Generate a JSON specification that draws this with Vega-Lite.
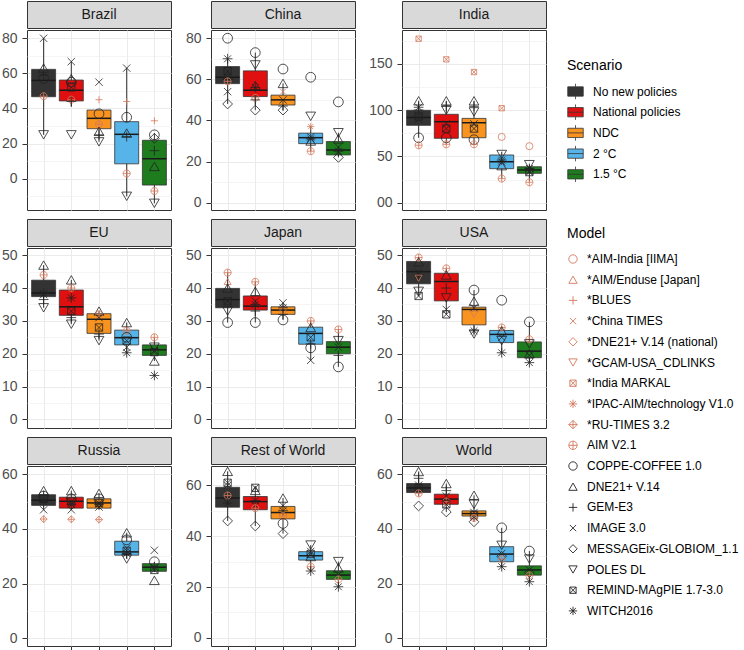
{
"$schema": "https://vega.github.io/schema/vega-lite/v6.json",
"padding": {"left": 0, "top": 0, "right": 0, "bottom": 0},
"config": {
 "font": "Liberation Sans",
 "view": {"stroke": "#333333", "strokeWidth": 1},
 "axis": {"labelFontSize": 14, "labelColor": "#4d4d4d", "tickColor": "#333333", "domain": false, "gridColor": "#ebebeb", "labelFont": "Liberation Sans", "tickSize": 5, "labelPadding": 5, "labelOverlap": false},
 "legend": {"titleFontSize": 14, "titleFontWeight": "normal", "labelFontSize": 12, "titleColor": "#000000", "labelColor": "#000000", "titleFont": "Liberation Sans", "labelFont": "Liberation Sans", "labelLimit": 220, "padding": 0}
},
"datasets": {
"models": [
{"mcode":"AIN","model":"*AIM-India [IIMA]"},{"mcode":"AJ","model":"*AIM/Enduse [Japan]"},{"mcode":"BL","model":"*BLUES"},{"mcode":"CT","model":"*China TIMES"},{"mcode":"DJ","model":"*DNE21+ V.14 (national)"},{"mcode":"GU","model":"*GCAM-USA_CDLINKS"},{"mcode":"IMK","model":"*India MARKAL"},{"mcode":"IP","model":"*IPAC-AIM/technology V1.0"},{"mcode":"RT","model":"*RU-TIMES 3.2"},{"mcode":"AI","model":"AIM V2.1"},{"mcode":"CO","model":"COPPE-COFFEE 1.0"},{"mcode":"DN","model":"DNE21+ V.14"},{"mcode":"GE","model":"GEM-E3"},{"mcode":"IM","model":"IMAGE 3.0"},{"mcode":"ME","model":"MESSAGEix-GLOBIOM_1.1"},{"mcode":"PO","model":"POLES DL"},{"mcode":"RE","model":"REMIND-MAgPIE 1.7-3.0"},{"mcode":"WI","model":"WITCH2016"}
],
"box": [
{"region":"Brazil","scen":"NNP","scenario":"No new policies","lo":25,"q1":46.7,"med":56,"q3":62.3,"hi":80},
{"region":"Brazil","scen":"NP","scenario":"National policies","lo":41,"q1":44.3,"med":50.4,"q3":56.2,"hi":66.7},
{"region":"Brazil","scen":"NDC","scenario":"NDC","lo":21,"q1":28.5,"med":34.4,"q3":39.1,"hi":39.1},
{"region":"Brazil","scen":"2C","scenario":"2 °C","lo":-10,"q1":8.5,"med":25.3,"q3":32.5,"hi":63},
{"region":"Brazil","scen":"15C","scenario":"1.5 °C","lo":-14,"q1":-3.6,"med":11.4,"q3":21.9,"hi":26},
{"region":"China","scen":"NNP","scenario":"No new policies","lo":48,"q1":57.9,"med":61,"q3":66.2,"hi":70},
{"region":"China","scen":"NP","scenario":"National policies","lo":45,"q1":51.6,"med":54.7,"q3":64.1,"hi":73},
{"region":"China","scen":"NDC","scenario":"NDC","lo":45,"q1":47.5,"med":50,"q3":52.3,"hi":58},
{"region":"China","scen":"2C","scenario":"2 °C","lo":25,"q1":28.7,"med":31.6,"q3":33.8,"hi":37},
{"region":"China","scen":"15C","scenario":"1.5 °C","lo":22,"q1":23.2,"med":25.6,"q3":29.7,"hi":34},
{"region":"India","scen":"NNP","scenario":"No new policies","lo":70,"q1":83.5,"med":92,"q3":99.7,"hi":110},
{"region":"India","scen":"NP","scenario":"National policies","lo":63,"q1":69.5,"med":87.4,"q3":95.4,"hi":110},
{"region":"India","scen":"NDC","scenario":"NDC","lo":63,"q1":70.1,"med":86.3,"q3":91,"hi":110},
{"region":"India","scen":"2C","scenario":"2 °C","lo":26,"q1":36.7,"med":44.2,"q3":51.5,"hi":55},
{"region":"India","scen":"15C","scenario":"1.5 °C","lo":23,"q1":31.7,"med":35.3,"q3":38.8,"hi":41},
{"region":"EU","scen":"NNP","scenario":"No new policies","lo":34,"q1":37.4,"med":38.5,"q3":42.4,"hi":47},
{"region":"EU","scen":"NP","scenario":"National policies","lo":29,"q1":31.7,"med":34.3,"q3":39.4,"hi":42.5},
{"region":"EU","scen":"NDC","scenario":"NDC","lo":24,"q1":26.2,"med":30.5,"q3":32.2,"hi":33},
{"region":"EU","scen":"2C","scenario":"2 °C","lo":20.3,"q1":22.7,"med":24.9,"q3":27.2,"hi":29.5},
{"region":"EU","scen":"15C","scenario":"1.5 °C","lo":17.8,"q1":19.5,"med":21.2,"q3":22.7,"hi":25},
{"region":"Japan","scen":"NNP","scenario":"No new policies","lo":29.5,"q1":34,"med":36.5,"q3":39.9,"hi":44.7},
{"region":"Japan","scen":"NP","scenario":"National policies","lo":29.5,"q1":33.3,"med":34.5,"q3":37.6,"hi":41.9},
{"region":"Japan","scen":"NDC","scenario":"NDC","lo":30.3,"q1":32,"med":33.3,"q3":34.3,"hi":35.5},
{"region":"Japan","scen":"2C","scenario":"2 °C","lo":18,"q1":22.9,"med":26.2,"q3":28.1,"hi":30},
{"region":"Japan","scen":"15C","scenario":"1.5 °C","lo":16,"q1":20,"med":22,"q3":23.7,"hi":27.4},
{"region":"USA","scen":"NNP","scenario":"No new policies","lo":37.6,"q1":41.3,"med":45,"q3":48.1,"hi":49.3},
{"region":"USA","scen":"NP","scenario":"National policies","lo":32,"q1":36.1,"med":42,"q3":44.5,"hi":46},
{"region":"USA","scen":"NDC","scenario":"NDC","lo":26,"q1":28.8,"med":33.5,"q3":34.2,"hi":39.4},
{"region":"USA","scen":"2C","scenario":"2 °C","lo":20.3,"q1":23.4,"med":25.9,"q3":27.1,"hi":28},
{"region":"USA","scen":"15C","scenario":"1.5 °C","lo":17.3,"q1":18.8,"med":20.8,"q3":23.6,"hi":29.7},
{"region":"Russia","scen":"NNP","scenario":"No new policies","lo":47,"q1":48.6,"med":50.5,"q3":52.5,"hi":54},
{"region":"Russia","scen":"NP","scenario":"National policies","lo":47,"q1":47.6,"med":50.1,"q3":51.6,"hi":54},
{"region":"Russia","scen":"NDC","scenario":"NDC","lo":47,"q1":47.6,"med":49.5,"q3":51,"hi":53},
{"region":"Russia","scen":"2C","scenario":"2 °C","lo":29,"q1":30.4,"med":31.6,"q3":35.5,"hi":38.6},
{"region":"Russia","scen":"15C","scenario":"1.5 °C","lo":24.5,"q1":24.5,"med":26,"q3":27.3,"hi":28},
{"region":"Rest of World","scen":"NNP","scenario":"No new policies","lo":46,"q1":51.4,"med":55,"q3":59.2,"hi":65.5},
{"region":"Rest of World","scen":"NP","scenario":"National policies","lo":44,"q1":50.4,"med":53.6,"q3":55.6,"hi":59},
{"region":"Rest of World","scen":"NDC","scenario":"NDC","lo":41,"q1":46.8,"med":49.3,"q3":51.7,"hi":55},
{"region":"Rest of World","scen":"2C","scenario":"2 °C","lo":26.3,"q1":30.6,"med":32.3,"q3":33.9,"hi":36.5},
{"region":"Rest of World","scen":"15C","scenario":"1.5 °C","lo":20.1,"q1":23,"med":24.7,"q3":26.4,"hi":30},
{"region":"World","scen":"NNP","scenario":"No new policies","lo":52,"q1":53.3,"med":55,"q3":56.6,"hi":61},
{"region":"World","scen":"NP","scenario":"National policies","lo":46.2,"q1":49,"med":50.9,"q3":52.7,"hi":56.6},
{"region":"World","scen":"NDC","scenario":"NDC","lo":42.6,"q1":44.7,"med":45.6,"q3":46.6,"hi":52.3},
{"region":"World","scen":"2C","scenario":"2 °C","lo":26.2,"q1":28,"med":30.8,"q3":33.5,"hi":40.4},
{"region":"World","scen":"15C","scenario":"1.5 °C","lo":20.7,"q1":23.1,"med":25,"q3":26.5,"hi":31.9}
],
"pts": [
{"region":"Brazil","scen":"NNP","mcode":"IM","value":80},{"region":"Brazil","scen":"NNP","mcode":"DN","value":63},{"region":"Brazil","scen":"NNP","mcode":"GE","value":59},{"region":"Brazil","scen":"NNP","mcode":"CO","value":57},{"region":"Brazil","scen":"NNP","mcode":"AI","value":47},{"region":"Brazil","scen":"NNP","mcode":"PO","value":25},
{"region":"Brazil","scen":"NP","mcode":"IM","value":66.7},{"region":"Brazil","scen":"NP","mcode":"DN","value":57},{"region":"Brazil","scen":"NP","mcode":"CO","value":55},{"region":"Brazil","scen":"NP","mcode":"RE","value":52},{"region":"Brazil","scen":"NP","mcode":"AI","value":45},{"region":"Brazil","scen":"NP","mcode":"GE","value":44},{"region":"Brazil","scen":"NP","mcode":"PO","value":25},
{"region":"Brazil","scen":"NDC","mcode":"IM","value":55},{"region":"Brazil","scen":"NDC","mcode":"BL","value":45},{"region":"Brazil","scen":"NDC","mcode":"CO","value":37},{"region":"Brazil","scen":"NDC","mcode":"AI","value":31},{"region":"Brazil","scen":"NDC","mcode":"DN","value":27},{"region":"Brazil","scen":"NDC","mcode":"GE","value":25},{"region":"Brazil","scen":"NDC","mcode":"PO","value":21},
{"region":"Brazil","scen":"2C","mcode":"IM","value":63},{"region":"Brazil","scen":"2C","mcode":"BL","value":44},{"region":"Brazil","scen":"2C","mcode":"CO","value":35},{"region":"Brazil","scen":"2C","mcode":"DN","value":26},{"region":"Brazil","scen":"2C","mcode":"GE","value":24},{"region":"Brazil","scen":"2C","mcode":"AI","value":3},{"region":"Brazil","scen":"2C","mcode":"PO","value":-10},
{"region":"Brazil","scen":"15C","mcode":"BL","value":33},{"region":"Brazil","scen":"15C","mcode":"CO","value":25},{"region":"Brazil","scen":"15C","mcode":"ME","value":23},{"region":"Brazil","scen":"15C","mcode":"GE","value":16},{"region":"Brazil","scen":"15C","mcode":"DN","value":7},{"region":"Brazil","scen":"15C","mcode":"AI","value":-7},{"region":"Brazil","scen":"15C","mcode":"PO","value":-14},
{"region":"China","scen":"NNP","mcode":"CO","value":80},{"region":"China","scen":"NNP","mcode":"WI","value":70},{"region":"China","scen":"NNP","mcode":"RE","value":64},{"region":"China","scen":"NNP","mcode":"DN","value":62},{"region":"China","scen":"NNP","mcode":"AI","value":59},{"region":"China","scen":"NNP","mcode":"IM","value":54},{"region":"China","scen":"NNP","mcode":"ME","value":48},
{"region":"China","scen":"NP","mcode":"CO","value":73},{"region":"China","scen":"NP","mcode":"PO","value":67},{"region":"China","scen":"NP","mcode":"DN","value":57},{"region":"China","scen":"NP","mcode":"WI","value":56},{"region":"China","scen":"NP","mcode":"AI","value":51},{"region":"China","scen":"NP","mcode":"GE","value":50},{"region":"China","scen":"NP","mcode":"ME","value":45},
{"region":"China","scen":"NDC","mcode":"CO","value":65},{"region":"China","scen":"NDC","mcode":"DN","value":58},{"region":"China","scen":"NDC","mcode":"CT","value":54},{"region":"China","scen":"NDC","mcode":"IM","value":50},{"region":"China","scen":"NDC","mcode":"GE","value":47},{"region":"China","scen":"NDC","mcode":"ME","value":45},
{"region":"China","scen":"2C","mcode":"CO","value":61},{"region":"China","scen":"2C","mcode":"PO","value":42},{"region":"China","scen":"2C","mcode":"IP","value":37},{"region":"China","scen":"2C","mcode":"IM","value":32},{"region":"China","scen":"2C","mcode":"WI","value":31},{"region":"China","scen":"2C","mcode":"DN","value":30},{"region":"China","scen":"2C","mcode":"AI","value":25},
{"region":"China","scen":"15C","mcode":"CO","value":49},{"region":"China","scen":"15C","mcode":"PO","value":34},{"region":"China","scen":"15C","mcode":"DN","value":31},{"region":"China","scen":"15C","mcode":"IM","value":27},{"region":"China","scen":"15C","mcode":"WI","value":25},{"region":"China","scen":"15C","mcode":"ME","value":22},
{"region":"India","scen":"NNP","mcode":"IMK","value":177},{"region":"India","scen":"NNP","mcode":"DN","value":110},{"region":"India","scen":"NNP","mcode":"WI","value":103},{"region":"India","scen":"NNP","mcode":"GE","value":100},{"region":"India","scen":"NNP","mcode":"RE","value":93},{"region":"India","scen":"NNP","mcode":"IM","value":90},{"region":"India","scen":"NNP","mcode":"CO","value":70},{"region":"India","scen":"NNP","mcode":"AI","value":62},
{"region":"India","scen":"NP","mcode":"IMK","value":154.7},{"region":"India","scen":"NP","mcode":"DN","value":110},{"region":"India","scen":"NP","mcode":"GE","value":104},{"region":"India","scen":"NP","mcode":"PO","value":100},{"region":"India","scen":"NP","mcode":"IM","value":85},{"region":"India","scen":"NP","mcode":"RE","value":80},{"region":"India","scen":"NP","mcode":"CO","value":70},{"region":"India","scen":"NP","mcode":"AI","value":63},
{"region":"India","scen":"NDC","mcode":"IMK","value":141},{"region":"India","scen":"NDC","mcode":"DN","value":110},{"region":"India","scen":"NDC","mcode":"GE","value":104},{"region":"India","scen":"NDC","mcode":"PO","value":98},{"region":"India","scen":"NDC","mcode":"IM","value":85},{"region":"India","scen":"NDC","mcode":"RE","value":80},{"region":"India","scen":"NDC","mcode":"CO","value":68},{"region":"India","scen":"NDC","mcode":"AI","value":63},
{"region":"India","scen":"2C","mcode":"IMK","value":102},{"region":"India","scen":"2C","mcode":"AIN","value":71},{"region":"India","scen":"2C","mcode":"PO","value":52},{"region":"India","scen":"2C","mcode":"WI","value":46},{"region":"India","scen":"2C","mcode":"IM","value":44},{"region":"India","scen":"2C","mcode":"DN","value":40},{"region":"India","scen":"2C","mcode":"AI","value":26},
{"region":"India","scen":"15C","mcode":"AIN","value":61},{"region":"India","scen":"15C","mcode":"PO","value":41},{"region":"India","scen":"15C","mcode":"WI","value":37},{"region":"India","scen":"15C","mcode":"IM","value":34},{"region":"India","scen":"15C","mcode":"RE","value":33},{"region":"India","scen":"15C","mcode":"AI","value":22},
{"region":"EU","scen":"NNP","mcode":"DN","value":47},{"region":"EU","scen":"NNP","mcode":"AI","value":44},{"region":"EU","scen":"NNP","mcode":"WI","value":38.5},{"region":"EU","scen":"NNP","mcode":"IM","value":38},{"region":"EU","scen":"NNP","mcode":"GE","value":36.5},{"region":"EU","scen":"NNP","mcode":"PO","value":34},
{"region":"EU","scen":"NP","mcode":"DN","value":42.5},{"region":"EU","scen":"NP","mcode":"AI","value":40},{"region":"EU","scen":"NP","mcode":"WI","value":37},{"region":"EU","scen":"NP","mcode":"RE","value":33},{"region":"EU","scen":"NP","mcode":"GE","value":31},{"region":"EU","scen":"NP","mcode":"PO","value":29},
{"region":"EU","scen":"NDC","mcode":"DN","value":33},{"region":"EU","scen":"NDC","mcode":"AI","value":32},{"region":"EU","scen":"NDC","mcode":"IM","value":31},{"region":"EU","scen":"NDC","mcode":"RE","value":28},{"region":"EU","scen":"NDC","mcode":"GE","value":26},{"region":"EU","scen":"NDC","mcode":"PO","value":24},
{"region":"EU","scen":"2C","mcode":"DN","value":29.5},{"region":"EU","scen":"2C","mcode":"AI","value":27},{"region":"EU","scen":"2C","mcode":"CO","value":25},{"region":"EU","scen":"2C","mcode":"RE","value":24},{"region":"EU","scen":"2C","mcode":"IM","value":22},{"region":"EU","scen":"2C","mcode":"WI","value":20.3},
{"region":"EU","scen":"15C","mcode":"AI","value":25},{"region":"EU","scen":"15C","mcode":"PO","value":22},{"region":"EU","scen":"15C","mcode":"IM","value":21},{"region":"EU","scen":"15C","mcode":"RE","value":20.5},{"region":"EU","scen":"15C","mcode":"DN","value":17.8},{"region":"EU","scen":"15C","mcode":"WI","value":13.4},
{"region":"Japan","scen":"NNP","mcode":"AI","value":44.7},{"region":"Japan","scen":"NNP","mcode":"AJ","value":42},{"region":"Japan","scen":"NNP","mcode":"DN","value":40},{"region":"Japan","scen":"NNP","mcode":"RE","value":36},{"region":"Japan","scen":"NNP","mcode":"IM","value":36},{"region":"Japan","scen":"NNP","mcode":"PO","value":33},{"region":"Japan","scen":"NNP","mcode":"CO","value":29.5},
{"region":"Japan","scen":"NP","mcode":"AI","value":41.9},{"region":"Japan","scen":"NP","mcode":"DN","value":39},{"region":"Japan","scen":"NP","mcode":"IM","value":36},{"region":"Japan","scen":"NP","mcode":"WI","value":35},{"region":"Japan","scen":"NP","mcode":"GE","value":33},{"region":"Japan","scen":"NP","mcode":"CO","value":29.5},
{"region":"Japan","scen":"NDC","mcode":"IM","value":35.5},{"region":"Japan","scen":"NDC","mcode":"WI","value":34},{"region":"Japan","scen":"NDC","mcode":"DJ","value":33},{"region":"Japan","scen":"NDC","mcode":"GE","value":32},{"region":"Japan","scen":"NDC","mcode":"CO","value":30.3},
{"region":"Japan","scen":"2C","mcode":"AI","value":30},{"region":"Japan","scen":"2C","mcode":"DN","value":28},{"region":"Japan","scen":"2C","mcode":"RE","value":25},{"region":"Japan","scen":"2C","mcode":"GE","value":23},{"region":"Japan","scen":"2C","mcode":"CO","value":21.8},{"region":"Japan","scen":"2C","mcode":"IM","value":18},
{"region":"Japan","scen":"15C","mcode":"AI","value":27.4},{"region":"Japan","scen":"15C","mcode":"PO","value":24},{"region":"Japan","scen":"15C","mcode":"IM","value":22},{"region":"Japan","scen":"15C","mcode":"GE","value":19.5},{"region":"Japan","scen":"15C","mcode":"CO","value":16},
{"region":"USA","scen":"NNP","mcode":"AI","value":49.3},{"region":"USA","scen":"NNP","mcode":"DN","value":48},{"region":"USA","scen":"NNP","mcode":"IM","value":44.7},{"region":"USA","scen":"NNP","mcode":"WI","value":44},{"region":"USA","scen":"NNP","mcode":"GU","value":43},{"region":"USA","scen":"NNP","mcode":"PO","value":39},{"region":"USA","scen":"NNP","mcode":"RE","value":37.6},
{"region":"USA","scen":"NP","mcode":"AI","value":46},{"region":"USA","scen":"NP","mcode":"DN","value":44},{"region":"USA","scen":"NP","mcode":"GE","value":40},{"region":"USA","scen":"NP","mcode":"PO","value":37},{"region":"USA","scen":"NP","mcode":"IM","value":33.5},{"region":"USA","scen":"NP","mcode":"RE","value":32},
{"region":"USA","scen":"NDC","mcode":"CO","value":39.4},{"region":"USA","scen":"NDC","mcode":"DN","value":36},{"region":"USA","scen":"NDC","mcode":"IM","value":34},{"region":"USA","scen":"NDC","mcode":"GU","value":32},{"region":"USA","scen":"NDC","mcode":"WI","value":27},{"region":"USA","scen":"NDC","mcode":"PO","value":26},
{"region":"USA","scen":"2C","mcode":"CO","value":36.3},{"region":"USA","scen":"2C","mcode":"AI","value":28},{"region":"USA","scen":"2C","mcode":"DN","value":27},{"region":"USA","scen":"2C","mcode":"IM","value":25},{"region":"USA","scen":"2C","mcode":"PO","value":24},{"region":"USA","scen":"2C","mcode":"WI","value":20.3},
{"region":"USA","scen":"15C","mcode":"CO","value":29.7},{"region":"USA","scen":"15C","mcode":"AI","value":24.4},{"region":"USA","scen":"15C","mcode":"PO","value":23},{"region":"USA","scen":"15C","mcode":"DN","value":20},{"region":"USA","scen":"15C","mcode":"IM","value":19.5},{"region":"USA","scen":"15C","mcode":"WI","value":17.3},
{"region":"Russia","scen":"NNP","mcode":"DN","value":54},{"region":"Russia","scen":"NNP","mcode":"CO","value":52},{"region":"Russia","scen":"NNP","mcode":"RE","value":51},{"region":"Russia","scen":"NNP","mcode":"WI","value":50},{"region":"Russia","scen":"NNP","mcode":"IM","value":47},{"region":"Russia","scen":"NNP","mcode":"RT","value":43.6},
{"region":"Russia","scen":"NP","mcode":"DN","value":54},{"region":"Russia","scen":"NP","mcode":"CO","value":51},{"region":"Russia","scen":"NP","mcode":"RE","value":50},{"region":"Russia","scen":"NP","mcode":"WI","value":49},{"region":"Russia","scen":"NP","mcode":"IM","value":47},{"region":"Russia","scen":"NP","mcode":"RT","value":43.5},
{"region":"Russia","scen":"NDC","mcode":"DN","value":53},{"region":"Russia","scen":"NDC","mcode":"CO","value":51},{"region":"Russia","scen":"NDC","mcode":"RE","value":49.5},{"region":"Russia","scen":"NDC","mcode":"WI","value":49},{"region":"Russia","scen":"NDC","mcode":"IM","value":48},{"region":"Russia","scen":"NDC","mcode":"RT","value":43.4},
{"region":"Russia","scen":"2C","mcode":"DN","value":38.6},{"region":"Russia","scen":"2C","mcode":"CO","value":36},{"region":"Russia","scen":"2C","mcode":"IM","value":33},{"region":"Russia","scen":"2C","mcode":"RE","value":32},{"region":"Russia","scen":"2C","mcode":"WI","value":31},{"region":"Russia","scen":"2C","mcode":"PO","value":29},
{"region":"Russia","scen":"15C","mcode":"IM","value":32.2},{"region":"Russia","scen":"15C","mcode":"CO","value":28},{"region":"Russia","scen":"15C","mcode":"WI","value":26},{"region":"Russia","scen":"15C","mcode":"RE","value":25},{"region":"Russia","scen":"15C","mcode":"DN","value":21.2},
{"region":"Rest of World","scen":"NNP","mcode":"DN","value":65.5},{"region":"Rest of World","scen":"NNP","mcode":"RE","value":61},{"region":"Rest of World","scen":"NNP","mcode":"IM","value":60},{"region":"Rest of World","scen":"NNP","mcode":"AI","value":56},{"region":"Rest of World","scen":"NNP","mcode":"WI","value":53},{"region":"Rest of World","scen":"NNP","mcode":"ME","value":46},
{"region":"Rest of World","scen":"NP","mcode":"RE","value":59},{"region":"Rest of World","scen":"NP","mcode":"DN","value":58},{"region":"Rest of World","scen":"NP","mcode":"WI","value":54},{"region":"Rest of World","scen":"NP","mcode":"IM","value":52},{"region":"Rest of World","scen":"NP","mcode":"AI","value":51},{"region":"Rest of World","scen":"NP","mcode":"ME","value":44},
{"region":"Rest of World","scen":"NDC","mcode":"DN","value":55},{"region":"Rest of World","scen":"NDC","mcode":"IM","value":52},{"region":"Rest of World","scen":"NDC","mcode":"WI","value":50},{"region":"Rest of World","scen":"NDC","mcode":"AI","value":48},{"region":"Rest of World","scen":"NDC","mcode":"CO","value":45},{"region":"Rest of World","scen":"NDC","mcode":"ME","value":41},
{"region":"Rest of World","scen":"2C","mcode":"PO","value":36.5},{"region":"Rest of World","scen":"2C","mcode":"IM","value":34},{"region":"Rest of World","scen":"2C","mcode":"RE","value":33},{"region":"Rest of World","scen":"2C","mcode":"DN","value":32},{"region":"Rest of World","scen":"2C","mcode":"AI","value":28},{"region":"Rest of World","scen":"2C","mcode":"WI","value":26.3},
{"region":"Rest of World","scen":"15C","mcode":"PO","value":30},{"region":"Rest of World","scen":"15C","mcode":"DN","value":27.5},{"region":"Rest of World","scen":"15C","mcode":"IM","value":25},{"region":"Rest of World","scen":"15C","mcode":"AI","value":23},{"region":"Rest of World","scen":"15C","mcode":"WI","value":20.1},
{"region":"World","scen":"NNP","mcode":"DN","value":61},{"region":"World","scen":"NNP","mcode":"GE","value":58.5},{"region":"World","scen":"NNP","mcode":"IM","value":56},{"region":"World","scen":"NNP","mcode":"RE","value":55},{"region":"World","scen":"NNP","mcode":"AI","value":53},{"region":"World","scen":"NNP","mcode":"ME","value":48.4},
{"region":"World","scen":"NP","mcode":"DN","value":56.6},{"region":"World","scen":"NP","mcode":"GE","value":54},{"region":"World","scen":"NP","mcode":"IM","value":52},{"region":"World","scen":"NP","mcode":"AI","value":50},{"region":"World","scen":"NP","mcode":"RE","value":49},{"region":"World","scen":"NP","mcode":"ME","value":46.2},
{"region":"World","scen":"NDC","mcode":"DN","value":52.3},{"region":"World","scen":"NDC","mcode":"PO","value":49},{"region":"World","scen":"NDC","mcode":"IM","value":46},{"region":"World","scen":"NDC","mcode":"RE","value":45},{"region":"World","scen":"NDC","mcode":"AI","value":44},{"region":"World","scen":"NDC","mcode":"ME","value":42.6},
{"region":"World","scen":"2C","mcode":"CO","value":40.4},{"region":"World","scen":"2C","mcode":"PO","value":34},{"region":"World","scen":"2C","mcode":"IM","value":31},{"region":"World","scen":"2C","mcode":"ME","value":30},{"region":"World","scen":"2C","mcode":"AI","value":29},{"region":"World","scen":"2C","mcode":"WI","value":26.2},
{"region":"World","scen":"15C","mcode":"CO","value":31.9},{"region":"World","scen":"15C","mcode":"PO","value":29},{"region":"World","scen":"15C","mcode":"IM","value":25},{"region":"World","scen":"15C","mcode":"ME","value":24},{"region":"World","scen":"15C","mcode":"AI","value":23},{"region":"World","scen":"15C","mcode":"WI","value":20.7}
]
},
"columns": 3,
"spacing": {"row": 7, "column": 12},
"concat": [
{"spacing": 0, "vconcat": [
 {"width": 144, "height": 27, "view": {"fill": "#d9d9d9", "stroke": "#333333"}, "data": {"values": [{"region": "Brazil"}]}, "mark": {"type": "text", "fontSize": 14, "color": "#1a1a1a"}, "encoding": {"text": {"field": "region", "type": "nominal"}}},
 {"width": 144, "height": 180, "resolve": {"axis": {"y": "independent"}}, "layer": [
  {"data": {"name": "box"}, "transform": [{"filter": "datum.region == 'Brazil'"}], "mark": {"type": "rule", "color": "#333333", "strokeWidth": 1},
   "encoding": {"x": {"field": "scen", "type": "nominal", "title": null, "scale": {"type": "point", "padding": 0.6, "domain": ["NNP","NP","NDC","2C","15C"]}, "axis": {"title": null, "labels": false, "ticks": false, "domain": false, "grid": true}},
    "y": {"field": "lo", "type": "quantitative", "title": null, "scale": {"domain": [-17.8, 84.7], "nice": false, "zero": false}, "axis": {"title": null, "labelOverlap": false, "values": [0,20,40,60,80], "gridWidth": 1}},
    "y2": {"field": "hi"}}},
  {"data": {"name": "box"}, "transform": [{"filter": "datum.region == 'Brazil'"}], "mark": {"type": "bar", "size": 24, "stroke": "#333333", "strokeWidth": 0.8},
   "encoding": {"x": {"field": "scen", "type": "nominal", "title": null}, "y": {"field": "q1", "type": "quantitative", "title": null, "axis": {"title": null, "orient": "right", "values": [-10,10,30,50,70], "labels": false, "ticks": false, "domain": false, "grid": true, "gridWidth": 0.6, "gridColor": "#efefef"}}, "y2": {"field": "q3"},
    "fill": {"field": "scenario", "type": "nominal", "scale": {"domain": ["No new policies","National policies","NDC","2 °C","1.5 °C"], "range": ["#333333","#e01010","#f7931e","#56b4e9","#1e7b1e"]}, "legend": {"title": "Scenario", "orient": "none", "legendX": 540, "legendY": 58, "symbolType": "M-1,-0.6L1,-0.6L1,0.6L-1,0.6Z M-1,0L1,0 M0,-1L0,-0.6 M0,0.6L0,1", "symbolSize": 240, "symbolStrokeColor": "#333333", "symbolStrokeWidth": 0.8, "rowPadding": 1.7, "labelOffset": 9, "titlePadding": 10}}}},
  {"data": {"name": "box"}, "transform": [{"filter": "datum.region == 'Brazil'"}], "mark": {"type": "tick", "size": 24, "thickness": 1.5, "color": "#1a1a1a", "opacity": 1},
   "encoding": {"x": {"field": "scen", "type": "nominal", "title": null}, "y": {"field": "med", "type": "quantitative", "title": null, "axis": null}}},
  {"data": {"name": "pts"}, "transform": [{"filter": "datum.region == 'Brazil'"}, {"lookup": "mcode", "from": {"data": {"name": "models"}, "key": "mcode", "fields": ["model"]}}], "mark": {"type": "point", "filled": false, "opacity": 1, "strokeWidth": 0.8},
   "encoding": {"x": {"field": "scen", "type": "nominal", "title": null}, "y": {"field": "value", "type": "quantitative", "title": null, "axis": null},
    "shape": {"field": "model", "type": "nominal", "scale": {"domain": ["*AIM-India [IIMA]","*AIM/Enduse [Japan]","*BLUES","*China TIMES","*DNE21+ V.14 (national)","*GCAM-USA_CDLINKS","*India MARKAL","*IPAC-AIM/technology V1.0","*RU-TIMES 3.2","AIM V2.1","COPPE-COFFEE 1.0","DNE21+ V.14","GEM-E3","IMAGE 3.0","MESSAGEix-GLOBIOM_1.1","POLES DL","REMIND-MAgPIE 1.7-3.0","WITCH2016"], "range": ["circle","triangle-up","M-1,0L1,0M0,-1L0,1","M-0.75,-0.75L0.75,0.75M-0.75,0.75L0.75,-0.75","diamond","triangle-down","M-0.75,-0.75L0.75,-0.75L0.75,0.75L-0.75,0.75ZM-0.75,-0.75L0.75,0.75M-0.75,0.75L0.75,-0.75","M-1,0L1,0M0,-1L0,1M-0.7,-0.7L0.7,0.7M-0.7,0.7L0.7,-0.7","M0,-1L1,0L0,1L-1,0ZM-1,0L1,0M0,-1L0,1","M-1,0A1,1,0,1,1,1,0A1,1,0,1,1,-1,0ZM-1,0L1,0M0,-1L0,1","circle","triangle-up","M-1,0L1,0M0,-1L0,1","M-0.75,-0.75L0.75,0.75M-0.75,0.75L0.75,-0.75","diamond","triangle-down","M-0.75,-0.75L0.75,-0.75L0.75,0.75L-0.75,0.75ZM-0.75,-0.75L0.75,0.75M-0.75,0.75L0.75,-0.75","M-1,0L1,0M0,-1L0,1M-0.7,-0.7L0.7,0.7M-0.7,0.7L0.7,-0.7"]}, "legend": {"title": "Model", "orient": "none", "legendX": 540, "legendY": 226, "symbolSize": 70, "symbolStrokeWidth": 0.9, "rowPadding": 8.7, "labelOffset": 8, "titlePadding": 12, "encode": {"symbols": {"update": {"size": {"signal": "(indexof(datum.value, '*') == 0 || datum.value == 'AIM V2.1') ? 40 : 75"}}}}}},
    "color": {"field": "model", "type": "nominal", "scale": {"domain": ["*AIM-India [IIMA]","*AIM/Enduse [Japan]","*BLUES","*China TIMES","*DNE21+ V.14 (national)","*GCAM-USA_CDLINKS","*India MARKAL","*IPAC-AIM/technology V1.0","*RU-TIMES 3.2","AIM V2.1","COPPE-COFFEE 1.0","DNE21+ V.14","GEM-E3","IMAGE 3.0","MESSAGEix-GLOBIOM_1.1","POLES DL","REMIND-MAgPIE 1.7-3.0","WITCH2016"], "range": ["#d4785c","#d4785c","#d4785c","#d4785c","#d4785c","#d4785c","#d4785c","#d4785c","#d4785c","#d4785c","#222222","#222222","#222222","#222222","#222222","#222222","#222222","#222222"]}, "legend": {"title": "Model", "orient": "none", "legendX": 540, "legendY": 226, "symbolSize": 70, "symbolStrokeWidth": 0.9, "rowPadding": 8.7, "labelOffset": 8, "titlePadding": 12, "encode": {"symbols": {"update": {"size": {"signal": "(indexof(datum.value, '*') == 0 || datum.value == 'AIM V2.1') ? 40 : 75"}}}}}},
    "size": {"condition": {"test": "indexof(datum.model, '*') == 0 || datum.model == 'AIM V2.1'", "value": 50}, "value": 95}}}
 ]}
]},
{"spacing": 0, "vconcat": [
 {"width": 144, "height": 27, "view": {"fill": "#d9d9d9", "stroke": "#333333"}, "data": {"values": [{"region": "China"}]}, "mark": {"type": "text", "fontSize": 14, "color": "#1a1a1a"}, "encoding": {"text": {"field": "region", "type": "nominal"}}},
 {"width": 144, "height": 180, "resolve": {"axis": {"y": "independent"}}, "layer": [
  {"data": {"name": "box"}, "transform": [{"filter": "datum.region == 'China'"}], "mark": {"type": "rule", "color": "#333333", "strokeWidth": 1},
   "encoding": {"x": {"field": "scen", "type": "nominal", "title": null, "scale": {"type": "point", "padding": 0.6, "domain": ["NNP","NP","NDC","2C","15C"]}, "axis": {"title": null, "labels": false, "ticks": false, "domain": false, "grid": true}},
    "y": {"field": "lo", "type": "quantitative", "title": null, "scale": {"domain": [-3.6, 84], "nice": false, "zero": false}, "axis": {"title": null, "labelOverlap": false, "values": [0,20,40,60,80], "gridWidth": 1}},
    "y2": {"field": "hi"}}},
  {"data": {"name": "box"}, "transform": [{"filter": "datum.region == 'China'"}], "mark": {"type": "bar", "size": 24, "stroke": "#333333", "strokeWidth": 0.8},
   "encoding": {"x": {"field": "scen", "type": "nominal", "title": null}, "y": {"field": "q1", "type": "quantitative", "title": null, "axis": {"title": null, "orient": "right", "values": [10,30,50,70], "labels": false, "ticks": false, "domain": false, "grid": true, "gridWidth": 0.6, "gridColor": "#efefef"}}, "y2": {"field": "q3"}, "fill": {"field": "scenario", "type": "nominal"}}},
  {"data": {"name": "box"}, "transform": [{"filter": "datum.region == 'China'"}], "mark": {"type": "tick", "size": 24, "thickness": 1.5, "color": "#1a1a1a", "opacity": 1},
   "encoding": {"x": {"field": "scen", "type": "nominal", "title": null}, "y": {"field": "med", "type": "quantitative", "title": null, "axis": null}}},
  {"data": {"name": "pts"}, "transform": [{"filter": "datum.region == 'China'"}, {"lookup": "mcode", "from": {"data": {"name": "models"}, "key": "mcode", "fields": ["model"]}}], "mark": {"type": "point", "filled": false, "opacity": 1, "strokeWidth": 0.8},
   "encoding": {"x": {"field": "scen", "type": "nominal", "title": null}, "y": {"field": "value", "type": "quantitative", "title": null, "axis": null}, "shape": {"field": "model", "type": "nominal"}, "color": {"field": "model", "type": "nominal"},
    "size": {"condition": {"test": "indexof(datum.model, '*') == 0 || datum.model == 'AIM V2.1'", "value": 50}, "value": 95}}}
 ]}
]},
{"spacing": 0, "vconcat": [
 {"width": 144, "height": 27, "view": {"fill": "#d9d9d9", "stroke": "#333333"}, "data": {"values": [{"region": "India"}]}, "mark": {"type": "text", "fontSize": 14, "color": "#1a1a1a"}, "encoding": {"text": {"field": "region", "type": "nominal"}}},
 {"width": 144, "height": 180, "resolve": {"axis": {"y": "independent"}}, "layer": [
  {"data": {"name": "box"}, "transform": [{"filter": "datum.region == 'India'"}], "mark": {"type": "rule", "color": "#333333", "strokeWidth": 1},
   "encoding": {"x": {"field": "scen", "type": "nominal", "title": null, "scale": {"type": "point", "padding": 0.6, "domain": ["NNP","NP","NDC","2C","15C"]}, "axis": {"title": null, "labels": false, "ticks": false, "domain": false, "grid": true}},
    "y": {"field": "lo", "type": "quantitative", "title": null, "scale": {"domain": [-7.9, 186.4], "nice": false, "zero": false}, "axis": {"title": null, "labelOverlap": false, "values": [0,50,100,150], "labelExpr": "datum.value == 0 ? '00' : datum.label", "gridWidth": 1}},
    "y2": {"field": "hi"}}},
  {"data": {"name": "box"}, "transform": [{"filter": "datum.region == 'India'"}], "mark": {"type": "bar", "size": 24, "stroke": "#333333", "strokeWidth": 0.8},
   "encoding": {"x": {"field": "scen", "type": "nominal", "title": null}, "y": {"field": "q1", "type": "quantitative", "title": null, "axis": {"title": null, "orient": "right", "values": [25,75,125,175], "labels": false, "ticks": false, "domain": false, "grid": true, "gridWidth": 0.6, "gridColor": "#efefef"}}, "y2": {"field": "q3"}, "fill": {"field": "scenario", "type": "nominal"}}},
  {"data": {"name": "box"}, "transform": [{"filter": "datum.region == 'India'"}], "mark": {"type": "tick", "size": 24, "thickness": 1.5, "color": "#1a1a1a", "opacity": 1},
   "encoding": {"x": {"field": "scen", "type": "nominal", "title": null}, "y": {"field": "med", "type": "quantitative", "title": null, "axis": null}}},
  {"data": {"name": "pts"}, "transform": [{"filter": "datum.region == 'India'"}, {"lookup": "mcode", "from": {"data": {"name": "models"}, "key": "mcode", "fields": ["model"]}}], "mark": {"type": "point", "filled": false, "opacity": 1, "strokeWidth": 0.8},
   "encoding": {"x": {"field": "scen", "type": "nominal", "title": null}, "y": {"field": "value", "type": "quantitative", "title": null, "axis": null}, "shape": {"field": "model", "type": "nominal"}, "color": {"field": "model", "type": "nominal"},
    "size": {"condition": {"test": "indexof(datum.model, '*') == 0 || datum.model == 'AIM V2.1'", "value": 50}, "value": 95}}}
 ]}
]},
{"spacing": 0, "vconcat": [
 {"width": 144, "height": 27, "view": {"fill": "#d9d9d9", "stroke": "#333333"}, "data": {"values": [{"region": "EU"}]}, "mark": {"type": "text", "fontSize": 14, "color": "#1a1a1a"}, "encoding": {"text": {"field": "region", "type": "nominal"}}},
 {"width": 144, "height": 180, "resolve": {"axis": {"y": "independent"}}, "layer": [
  {"data": {"name": "box"}, "transform": [{"filter": "datum.region == 'EU'"}], "mark": {"type": "rule", "color": "#333333", "strokeWidth": 1},
   "encoding": {"x": {"field": "scen", "type": "nominal", "title": null, "scale": {"type": "point", "padding": 0.6, "domain": ["NNP","NP","NDC","2C","15C"]}, "axis": {"title": null, "labels": false, "ticks": false, "domain": false, "grid": true}},
    "y": {"field": "lo", "type": "quantitative", "title": null, "scale": {"domain": [-2.6, 52.2], "nice": false, "zero": false}, "axis": {"title": null, "labelOverlap": false, "values": [0,10,20,30,40,50], "gridWidth": 1}},
    "y2": {"field": "hi"}}},
  {"data": {"name": "box"}, "transform": [{"filter": "datum.region == 'EU'"}], "mark": {"type": "bar", "size": 24, "stroke": "#333333", "strokeWidth": 0.8},
   "encoding": {"x": {"field": "scen", "type": "nominal", "title": null}, "y": {"field": "q1", "type": "quantitative", "title": null, "axis": {"title": null, "orient": "right", "values": [5,15,25,35,45], "labels": false, "ticks": false, "domain": false, "grid": true, "gridWidth": 0.6, "gridColor": "#efefef"}}, "y2": {"field": "q3"}, "fill": {"field": "scenario", "type": "nominal"}}},
  {"data": {"name": "box"}, "transform": [{"filter": "datum.region == 'EU'"}], "mark": {"type": "tick", "size": 24, "thickness": 1.5, "color": "#1a1a1a", "opacity": 1},
   "encoding": {"x": {"field": "scen", "type": "nominal", "title": null}, "y": {"field": "med", "type": "quantitative", "title": null, "axis": null}}},
  {"data": {"name": "pts"}, "transform": [{"filter": "datum.region == 'EU'"}, {"lookup": "mcode", "from": {"data": {"name": "models"}, "key": "mcode", "fields": ["model"]}}], "mark": {"type": "point", "filled": false, "opacity": 1, "strokeWidth": 0.8},
   "encoding": {"x": {"field": "scen", "type": "nominal", "title": null}, "y": {"field": "value", "type": "quantitative", "title": null, "axis": null}, "shape": {"field": "model", "type": "nominal"}, "color": {"field": "model", "type": "nominal"},
    "size": {"condition": {"test": "indexof(datum.model, '*') == 0 || datum.model == 'AIM V2.1'", "value": 50}, "value": 95}}}
 ]}
]},
{"spacing": 0, "vconcat": [
 {"width": 144, "height": 27, "view": {"fill": "#d9d9d9", "stroke": "#333333"}, "data": {"values": [{"region": "Japan"}]}, "mark": {"type": "text", "fontSize": 14, "color": "#1a1a1a"}, "encoding": {"text": {"field": "region", "type": "nominal"}}},
 {"width": 144, "height": 180, "resolve": {"axis": {"y": "independent"}}, "layer": [
  {"data": {"name": "box"}, "transform": [{"filter": "datum.region == 'Japan'"}], "mark": {"type": "rule", "color": "#333333", "strokeWidth": 1},
   "encoding": {"x": {"field": "scen", "type": "nominal", "title": null, "scale": {"type": "point", "padding": 0.6, "domain": ["NNP","NP","NDC","2C","15C"]}, "axis": {"title": null, "labels": false, "ticks": false, "domain": false, "grid": true}},
    "y": {"field": "lo", "type": "quantitative", "title": null, "scale": {"domain": [-2.6, 52.2], "nice": false, "zero": false}, "axis": {"title": null, "labelOverlap": false, "values": [0,10,20,30,40,50], "gridWidth": 1}},
    "y2": {"field": "hi"}}},
  {"data": {"name": "box"}, "transform": [{"filter": "datum.region == 'Japan'"}], "mark": {"type": "bar", "size": 24, "stroke": "#333333", "strokeWidth": 0.8},
   "encoding": {"x": {"field": "scen", "type": "nominal", "title": null}, "y": {"field": "q1", "type": "quantitative", "title": null, "axis": {"title": null, "orient": "right", "values": [5,15,25,35,45], "labels": false, "ticks": false, "domain": false, "grid": true, "gridWidth": 0.6, "gridColor": "#efefef"}}, "y2": {"field": "q3"}, "fill": {"field": "scenario", "type": "nominal"}}},
  {"data": {"name": "box"}, "transform": [{"filter": "datum.region == 'Japan'"}], "mark": {"type": "tick", "size": 24, "thickness": 1.5, "color": "#1a1a1a", "opacity": 1},
   "encoding": {"x": {"field": "scen", "type": "nominal", "title": null}, "y": {"field": "med", "type": "quantitative", "title": null, "axis": null}}},
  {"data": {"name": "pts"}, "transform": [{"filter": "datum.region == 'Japan'"}, {"lookup": "mcode", "from": {"data": {"name": "models"}, "key": "mcode", "fields": ["model"]}}], "mark": {"type": "point", "filled": false, "opacity": 1, "strokeWidth": 0.8},
   "encoding": {"x": {"field": "scen", "type": "nominal", "title": null}, "y": {"field": "value", "type": "quantitative", "title": null, "axis": null}, "shape": {"field": "model", "type": "nominal"}, "color": {"field": "model", "type": "nominal"},
    "size": {"condition": {"test": "indexof(datum.model, '*') == 0 || datum.model == 'AIM V2.1'", "value": 50}, "value": 95}}}
 ]}
]},
{"spacing": 0, "vconcat": [
 {"width": 144, "height": 27, "view": {"fill": "#d9d9d9", "stroke": "#333333"}, "data": {"values": [{"region": "USA"}]}, "mark": {"type": "text", "fontSize": 14, "color": "#1a1a1a"}, "encoding": {"text": {"field": "region", "type": "nominal"}}},
 {"width": 144, "height": 180, "resolve": {"axis": {"y": "independent"}}, "layer": [
  {"data": {"name": "box"}, "transform": [{"filter": "datum.region == 'USA'"}], "mark": {"type": "rule", "color": "#333333", "strokeWidth": 1},
   "encoding": {"x": {"field": "scen", "type": "nominal", "title": null, "scale": {"type": "point", "padding": 0.6, "domain": ["NNP","NP","NDC","2C","15C"]}, "axis": {"title": null, "labels": false, "ticks": false, "domain": false, "grid": true}},
    "y": {"field": "lo", "type": "quantitative", "title": null, "scale": {"domain": [-2.6, 52.2], "nice": false, "zero": false}, "axis": {"title": null, "labelOverlap": false, "values": [0,10,20,30,40,50], "gridWidth": 1}},
    "y2": {"field": "hi"}}},
  {"data": {"name": "box"}, "transform": [{"filter": "datum.region == 'USA'"}], "mark": {"type": "bar", "size": 24, "stroke": "#333333", "strokeWidth": 0.8},
   "encoding": {"x": {"field": "scen", "type": "nominal", "title": null}, "y": {"field": "q1", "type": "quantitative", "title": null, "axis": {"title": null, "orient": "right", "values": [5,15,25,35,45], "labels": false, "ticks": false, "domain": false, "grid": true, "gridWidth": 0.6, "gridColor": "#efefef"}}, "y2": {"field": "q3"}, "fill": {"field": "scenario", "type": "nominal"}}},
  {"data": {"name": "box"}, "transform": [{"filter": "datum.region == 'USA'"}], "mark": {"type": "tick", "size": 24, "thickness": 1.5, "color": "#1a1a1a", "opacity": 1},
   "encoding": {"x": {"field": "scen", "type": "nominal", "title": null}, "y": {"field": "med", "type": "quantitative", "title": null, "axis": null}}},
  {"data": {"name": "pts"}, "transform": [{"filter": "datum.region == 'USA'"}, {"lookup": "mcode", "from": {"data": {"name": "models"}, "key": "mcode", "fields": ["model"]}}], "mark": {"type": "point", "filled": false, "opacity": 1, "strokeWidth": 0.8},
   "encoding": {"x": {"field": "scen", "type": "nominal", "title": null}, "y": {"field": "value", "type": "quantitative", "title": null, "axis": null}, "shape": {"field": "model", "type": "nominal"}, "color": {"field": "model", "type": "nominal"},
    "size": {"condition": {"test": "indexof(datum.model, '*') == 0 || datum.model == 'AIM V2.1'", "value": 50}, "value": 95}}}
 ]}
]},
{"spacing": 0, "vconcat": [
 {"width": 144, "height": 27, "view": {"fill": "#d9d9d9", "stroke": "#333333"}, "data": {"values": [{"region": "Russia"}]}, "mark": {"type": "text", "fontSize": 14, "color": "#1a1a1a"}, "encoding": {"text": {"field": "region", "type": "nominal"}}},
 {"width": 144, "height": 180, "resolve": {"axis": {"y": "independent"}}, "layer": [
  {"data": {"name": "box"}, "transform": [{"filter": "datum.region == 'Russia'"}], "mark": {"type": "rule", "color": "#333333", "strokeWidth": 1},
   "encoding": {"x": {"field": "scen", "type": "nominal", "title": null, "scale": {"type": "point", "padding": 0.6, "domain": ["NNP","NP","NDC","2C","15C"]}, "axis": {"title": null, "labels": false, "ticks": true, "tickSize": 5, "domain": false, "grid": true}},
    "y": {"field": "lo", "type": "quantitative", "title": null, "scale": {"domain": [-2.8, 63], "nice": false, "zero": false}, "axis": {"title": null, "labelOverlap": false, "values": [0,20,40,60], "gridWidth": 1}},
    "y2": {"field": "hi"}}},
  {"data": {"name": "box"}, "transform": [{"filter": "datum.region == 'Russia'"}], "mark": {"type": "bar", "size": 24, "stroke": "#333333", "strokeWidth": 0.8},
   "encoding": {"x": {"field": "scen", "type": "nominal", "title": null}, "y": {"field": "q1", "type": "quantitative", "title": null, "axis": {"title": null, "orient": "right", "values": [10,30,50], "labels": false, "ticks": false, "domain": false, "grid": true, "gridWidth": 0.6, "gridColor": "#efefef"}}, "y2": {"field": "q3"}, "fill": {"field": "scenario", "type": "nominal"}}},
  {"data": {"name": "box"}, "transform": [{"filter": "datum.region == 'Russia'"}], "mark": {"type": "tick", "size": 24, "thickness": 1.5, "color": "#1a1a1a", "opacity": 1},
   "encoding": {"x": {"field": "scen", "type": "nominal", "title": null}, "y": {"field": "med", "type": "quantitative", "title": null, "axis": null}}},
  {"data": {"name": "pts"}, "transform": [{"filter": "datum.region == 'Russia'"}, {"lookup": "mcode", "from": {"data": {"name": "models"}, "key": "mcode", "fields": ["model"]}}], "mark": {"type": "point", "filled": false, "opacity": 1, "strokeWidth": 0.8},
   "encoding": {"x": {"field": "scen", "type": "nominal", "title": null}, "y": {"field": "value", "type": "quantitative", "title": null, "axis": null}, "shape": {"field": "model", "type": "nominal"}, "color": {"field": "model", "type": "nominal"},
    "size": {"condition": {"test": "indexof(datum.model, '*') == 0 || datum.model == 'AIM V2.1'", "value": 50}, "value": 95}}}
 ]}
]},
{"spacing": 0, "vconcat": [
 {"width": 144, "height": 27, "view": {"fill": "#d9d9d9", "stroke": "#333333"}, "data": {"values": [{"region": "Rest of World"}]}, "mark": {"type": "text", "fontSize": 14, "color": "#1a1a1a"}, "encoding": {"text": {"field": "region", "type": "nominal"}}},
 {"width": 144, "height": 180, "resolve": {"axis": {"y": "independent"}}, "layer": [
  {"data": {"name": "box"}, "transform": [{"filter": "datum.region == 'Rest of World'"}], "mark": {"type": "rule", "color": "#333333", "strokeWidth": 1},
   "encoding": {"x": {"field": "scen", "type": "nominal", "title": null, "scale": {"type": "point", "padding": 0.6, "domain": ["NNP","NP","NDC","2C","15C"]}, "axis": {"title": null, "labels": false, "ticks": true, "tickSize": 5, "domain": false, "grid": true}},
    "y": {"field": "lo", "type": "quantitative", "title": null, "scale": {"domain": [-3.2, 67.6], "nice": false, "zero": false}, "axis": {"title": null, "labelOverlap": false, "values": [0,20,40,60], "gridWidth": 1}},
    "y2": {"field": "hi"}}},
  {"data": {"name": "box"}, "transform": [{"filter": "datum.region == 'Rest of World'"}], "mark": {"type": "bar", "size": 24, "stroke": "#333333", "strokeWidth": 0.8},
   "encoding": {"x": {"field": "scen", "type": "nominal", "title": null}, "y": {"field": "q1", "type": "quantitative", "title": null, "axis": {"title": null, "orient": "right", "values": [10,30,50], "labels": false, "ticks": false, "domain": false, "grid": true, "gridWidth": 0.6, "gridColor": "#efefef"}}, "y2": {"field": "q3"}, "fill": {"field": "scenario", "type": "nominal"}}},
  {"data": {"name": "box"}, "transform": [{"filter": "datum.region == 'Rest of World'"}], "mark": {"type": "tick", "size": 24, "thickness": 1.5, "color": "#1a1a1a", "opacity": 1},
   "encoding": {"x": {"field": "scen", "type": "nominal", "title": null}, "y": {"field": "med", "type": "quantitative", "title": null, "axis": null}}},
  {"data": {"name": "pts"}, "transform": [{"filter": "datum.region == 'Rest of World'"}, {"lookup": "mcode", "from": {"data": {"name": "models"}, "key": "mcode", "fields": ["model"]}}], "mark": {"type": "point", "filled": false, "opacity": 1, "strokeWidth": 0.8},
   "encoding": {"x": {"field": "scen", "type": "nominal", "title": null}, "y": {"field": "value", "type": "quantitative", "title": null, "axis": null}, "shape": {"field": "model", "type": "nominal"}, "color": {"field": "model", "type": "nominal"},
    "size": {"condition": {"test": "indexof(datum.model, '*') == 0 || datum.model == 'AIM V2.1'", "value": 50}, "value": 95}}}
 ]}
]},
{"spacing": 0, "vconcat": [
 {"width": 144, "height": 27, "view": {"fill": "#d9d9d9", "stroke": "#333333"}, "data": {"values": [{"region": "World"}]}, "mark": {"type": "text", "fontSize": 14, "color": "#1a1a1a"}, "encoding": {"text": {"field": "region", "type": "nominal"}}},
 {"width": 144, "height": 180, "resolve": {"axis": {"y": "independent"}}, "layer": [
  {"data": {"name": "box"}, "transform": [{"filter": "datum.region == 'World'"}], "mark": {"type": "rule", "color": "#333333", "strokeWidth": 1},
   "encoding": {"x": {"field": "scen", "type": "nominal", "title": null, "scale": {"type": "point", "padding": 0.6, "domain": ["NNP","NP","NDC","2C","15C"]}, "axis": {"title": null, "labels": false, "ticks": true, "tickSize": 5, "domain": false, "grid": true}},
    "y": {"field": "lo", "type": "quantitative", "title": null, "scale": {"domain": [-2.8, 63], "nice": false, "zero": false}, "axis": {"title": null, "labelOverlap": false, "values": [0,20,40,60], "gridWidth": 1}},
    "y2": {"field": "hi"}}},
  {"data": {"name": "box"}, "transform": [{"filter": "datum.region == 'World'"}], "mark": {"type": "bar", "size": 24, "stroke": "#333333", "strokeWidth": 0.8},
   "encoding": {"x": {"field": "scen", "type": "nominal", "title": null}, "y": {"field": "q1", "type": "quantitative", "title": null, "axis": {"title": null, "orient": "right", "values": [10,30,50], "labels": false, "ticks": false, "domain": false, "grid": true, "gridWidth": 0.6, "gridColor": "#efefef"}}, "y2": {"field": "q3"}, "fill": {"field": "scenario", "type": "nominal"}}},
  {"data": {"name": "box"}, "transform": [{"filter": "datum.region == 'World'"}], "mark": {"type": "tick", "size": 24, "thickness": 1.5, "color": "#1a1a1a", "opacity": 1},
   "encoding": {"x": {"field": "scen", "type": "nominal", "title": null}, "y": {"field": "med", "type": "quantitative", "title": null, "axis": null}}},
  {"data": {"name": "pts"}, "transform": [{"filter": "datum.region == 'World'"}, {"lookup": "mcode", "from": {"data": {"name": "models"}, "key": "mcode", "fields": ["model"]}}], "mark": {"type": "point", "filled": false, "opacity": 1, "strokeWidth": 0.8},
   "encoding": {"x": {"field": "scen", "type": "nominal", "title": null}, "y": {"field": "value", "type": "quantitative", "title": null, "axis": null}, "shape": {"field": "model", "type": "nominal"}, "color": {"field": "model", "type": "nominal"},
    "size": {"condition": {"test": "indexof(datum.model, '*') == 0 || datum.model == 'AIM V2.1'", "value": 50}, "value": 95}}}
 ]}
]}
]
}
